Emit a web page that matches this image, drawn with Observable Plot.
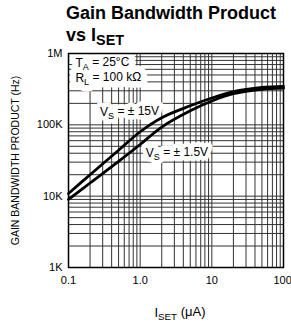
<!DOCTYPE html>
<html><head><meta charset="utf-8">
<script src="https://cdn.jsdelivr.net/npm/d3@7"></script>
<script src="https://cdn.jsdelivr.net/npm/@observablehq/plot@0.6"></script>
<style>
body{margin:0;background:#fff;}
#wrap{position:relative;width:291px;height:323px;font-family:"Liberation Sans",Arial,sans-serif;}
#title{position:absolute;left:66px;top:2px;font-weight:bold;font-size:18px;line-height:22px;z-index:2;color:#000;white-space:nowrap;}
#title sub{font-size:80%;vertical-align:-0.25em;line-height:0;}
#chart{position:absolute;left:0;top:0;}
</style></head><body>
<div id="wrap"><div id="chart"></div><div id="title">Gain Bandwidth Product<br>vs I<sub>SET</sub></div></div>
<script>
// I_SET (µA)
const iset = [0.1, 0.2, 0.5, 1, 2, 5, 10, 20, 50, 100];
// Gain bandwidth product (Hz)
const gbw15V = [10.9e3, 20e3, 44e3, 80e3, 126e3, 185e3, 238e3, 292e3, 334e3, 346e3];
const gbw1p5V = [9.0e3, 15.3e3, 30.7e3, 53e3, 93e3, 157e3, 216e3, 273e3, 314e3, 326e3];
const seriesNames = ["VS = ±15V", "VS = ±1.5V"];

const xTicks = [0.1, 1, 10, 100];
const xTickLabels = ["0.1", "1.0", "10", "100"];
const yTicks = [1e3, 1e4, 1e5, 1e6];
const yTickLabels = ["1K", "10K", "100K", "1M"];

const legendLabels = [
  {text: "T_A = 25°C", x: 0.125, y: 726e3},
  {text: "R_L = 100 kΩ", x: 0.125, y: 448e3}
];
const curveLabels = [
  {text: "V_S = ± 15V", x: 0.71, y: 149e3},
  {text: "V_S = ± 1.5V", x: 3.26, y: 39.8e3}
];
const xLabel = "I_SET (μA)";
const yLabel = "GAIN BANDWIDTH PRODUCT (Hz)";

const data = [
  ...iset.map((v, i) => ({iset: v, gbw: gbw15V[i], series: seriesNames[0]})),
  ...iset.map((v, i) => ({iset: v, gbw: gbw1p5V[i], series: seriesNames[1]}))
];
const xGrid = d3.scaleLog().domain([0.1, 100]).ticks();
const yGrid = d3.scaleLog().domain([1e3, 1e6]).ticks();
const sans = '"Liberation Sans", Arial, sans-serif';

const ink = {fontSize: 12, fontFamily: sans, fill: "#000"};

const chart = Plot.plot({
  width: 291, height: 323,
  marginTop: 53, marginBottom: 56, marginLeft: 68, marginRight: 8,
  style: {background: "transparent", fontFamily: sans, fontSize: "11px", color: "#000", overflow: "visible"},
  x: {type: "log", domain: [0.1, 100], ticks: xTicks, tickFormat: d => xTickLabels[xTicks.indexOf(d)], tickSize: 0, tickPadding: 9, label: null},
  y: {type: "log", domain: [1e3, 1e6], ticks: yTicks, tickFormat: d => yTickLabels[yTicks.indexOf(d)], tickSize: 0, tickPadding: 6, label: null},
  marks: [
    Plot.ruleX(xGrid, {stroke: "#333", strokeWidth: 1}),
    Plot.ruleY(yGrid, {stroke: "#333", strokeWidth: 1}),
    Plot.text(legendLabels, {x: "x", y: "y", text: "text", textAnchor: "start", fontSize: 12, fontFamily: sans, fill: "#fff", stroke: "#fff", strokeWidth: 13}),
    Plot.text(curveLabels, {x: "x", y: "y", text: "text", textAnchor: "middle", fontSize: 12, fontFamily: sans, fill: "#fff", stroke: "#fff", strokeWidth: 9}),
    Plot.text(legendLabels, {x: "x", y: "y", text: "text", textAnchor: "start", ...ink}),
    Plot.text(curveLabels, {x: "x", y: "y", text: "text", textAnchor: "middle", ...ink}),
    Plot.line(data, {x: "iset", y: "gbw", z: "series", curve: "catmull-rom", stroke: "#000", strokeWidth: 2.8}),
    Plot.frame({stroke: "#000", strokeWidth: 1.5}),
    Plot.text([yLabel], {frameAnchor: "left", text: d => d, rotate: -90, dx: -53, textAnchor: "middle", lineAnchor: "middle", fontSize: 10.5, fontFamily: sans, fill: "#000"}),
    Plot.text([xLabel], {frameAnchor: "bottom", text: d => d, dy: 45, dx: 4, textAnchor: "middle", lineAnchor: "middle", fontSize: 13, fontFamily: sans, fill: "#000"})
  ]
});

d3.select(chart).selectAll("text").each(function() {
  const t = this.textContent;
  if (t === "100") { d3.select(this).attr("text-anchor", "end").attr("dx", "0.75em"); return; }
  const m = t.match(/^(.*?)_([A-Z]+)(.*)$/);
  if (!m) return;
  const sel = d3.select(this);
  sel.text("");
  sel.append("tspan").text(m[1]);
  sel.append("tspan").attr("dy", "0.3em").attr("font-size", "75%").text(m[2]);
  sel.append("tspan").attr("dy", "-0.3em").text(m[3]);
});

document.getElementById("chart").appendChild(chart);
</script>
</body></html>
